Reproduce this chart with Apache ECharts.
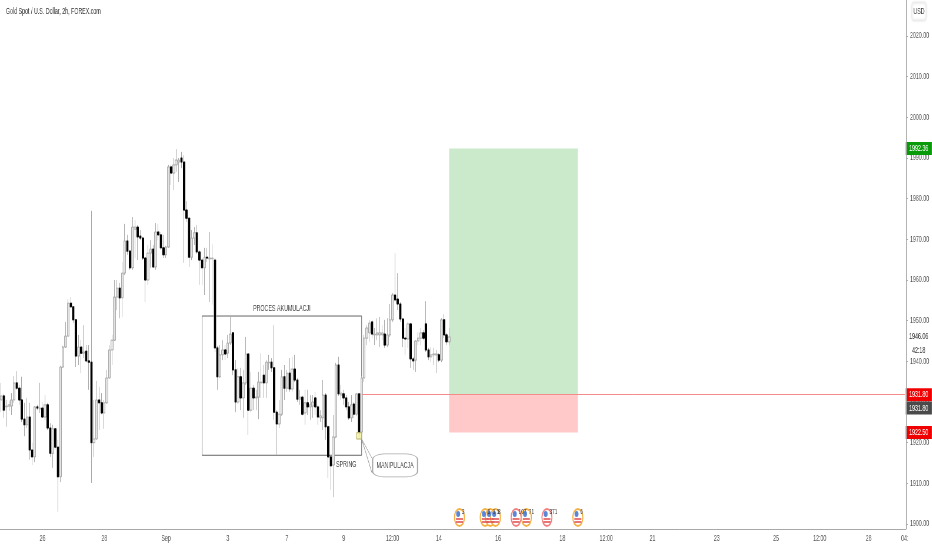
<!DOCTYPE html>
<html><head><meta charset="utf-8">
<style>html,body{margin:0;padding:0;background:#fff;overflow:hidden;width:932px;height:550px}
#c{width:1584.4px;height:550px;transform:scaleX(0.588235);transform-origin:0 0}</style>
<script src="https://cdn.jsdelivr.net/npm/echarts@6/dist/echarts.min.js"></script>
</head><body><div id="c"></div>
<script>
const opens=[1930.5,1931.5,1928.8,1929.0,1929.0,1930.5,1934.7,1933.4,1930.5,1925.8,1924.4,1926.3,1918.2,1916.5,1928.8,1928.3,1928.5,1926.3,1929.3,1923.6,1917.4,1923.4,1918.9,1911.6,1938.6,1943.5,1946.2,1954.3,1953.4,1950.2,1941.3,1943.5,1942.0,1942.5,1940.1,1939.8,1920.0,1920.9,1930.5,1929.8,1927.3,1929.8,1935.9,1942.8,1945.2,1955.8,1958.0,1955.6,1961.7,1969.6,1967.1,1963.0,1972.5,1973.0,1970.8,1970.3,1965.4,1960.0,1966.6,1967.6,1963.2,1971.8,1971.1,1967.9,1966.2,1968.1,1987.8,1986.3,1988.3,1989.0,1990.0,1989.0,1977.2,1975.2,1965.6,1970.3,1971.6,1966.9,1964.9,1963.0,1965.6,1965.2,1965.2,1964.9,1943.3,1936.2,1941.6,1942.8,1942.0,1944.5,1947.0,1937.9,1930.0,1936.2,1931.0,1934.7,1941.8,1928.0,1933.4,1931.0,1931.2,1934.7,1936.6,1934.7,1939.6,1939.8,1938.4,1927.5,1924.6,1927.0,1936.2,1933.4,1937.1,1933.2,1938.1,1935.4,1930.7,1931.2,1927.3,1929.8,1928.8,1929.0,1931.0,1928.8,1926.1,1926.1,1931.7,1923.9,1916.5,1914.5,1921.4,1939.1,1931.7,1932.0,1931.0,1928.8,1926.1,1929.5,1927.0,1932.0,1922.6,1935.9,1945.7,1947.0,1949.7,1946.5,1946.5,1946.5,1946.5,1946.7,1944.0,1946.5,1950.2,1956.3,1955.3,1954.1,1950.4,1945.7,1945.5,1949.2,1940.6,1940.3,1945.0,1945.7,1947.0,1949.2,1942.8,1941.1,1941.6,1941.6,1941.6,1940.3,1950.2,1946.5,1944.8];
const closes=[1931.5,1928.0,1929.0,1929.3,1930.5,1934.7,1933.4,1930.5,1925.8,1924.4,1926.3,1918.2,1916.5,1928.8,1928.5,1928.5,1926.3,1929.3,1923.6,1917.4,1923.4,1918.9,1911.6,1938.6,1943.5,1946.2,1954.3,1953.4,1950.2,1941.3,1943.5,1942.0,1942.3,1940.1,1939.8,1920.0,1920.9,1930.5,1929.8,1927.3,1929.8,1935.9,1942.8,1945.2,1955.8,1958.0,1955.6,1961.7,1969.6,1967.1,1963.0,1973.0,1973.0,1970.6,1970.3,1965.4,1960.0,1966.6,1967.6,1963.2,1971.8,1971.1,1967.9,1966.2,1968.1,1987.8,1986.3,1988.3,1989.5,1989.5,1989.0,1977.2,1975.2,1965.6,1970.3,1971.6,1966.9,1964.9,1963.0,1965.6,1965.4,1965.4,1965.4,1943.3,1936.2,1941.6,1942.8,1941.8,1944.5,1946.7,1937.9,1930.0,1936.2,1931.0,1934.7,1941.8,1928.0,1933.4,1931.0,1931.2,1934.9,1934.9,1934.7,1939.8,1939.8,1938.4,1927.5,1924.6,1927.0,1936.2,1933.4,1937.1,1933.2,1938.1,1935.4,1930.7,1931.2,1927.0,1929.8,1928.8,1929.3,1930.0,1928.8,1926.3,1926.6,1931.7,1923.9,1916.5,1914.3,1921.4,1939.1,1932.0,1932.2,1931.0,1928.8,1926.1,1929.3,1927.0,1932.0,1922.6,1935.9,1945.7,1948.2,1949.4,1946.7,1946.7,1947.0,1947.0,1947.0,1944.0,1946.5,1950.2,1956.3,1955.1,1954.1,1950.4,1945.7,1945.5,1949.2,1940.6,1940.1,1945.0,1945.7,1947.0,1945.7,1942.8,1941.1,1941.6,1941.8,1941.8,1940.3,1950.2,1946.5,1944.8,1946.0];
const highs=[1934.7,1932.0,1930.5,1930.3,1932.2,1936.4,1937.6,1934.2,1936.2,1929.8,1931.0,1929.8,1920.0,1929.0,1929.3,1934.7,1930.0,1931.7,1929.8,1924.8,1924.4,1923.6,1920.7,1938.9,1943.8,1949.7,1955.3,1955.8,1953.6,1950.4,1946.5,1945.2,1948.9,1944.0,1944.0,1977.0,1930.5,1935.2,1933.7,1932.2,1930.5,1937.9,1944.0,1946.5,1960.0,1960.0,1959.3,1964.4,1973.8,1971.1,1967.4,1975.5,1974.7,1973.5,1972.3,1970.6,1965.6,1968.6,1969.8,1968.6,1974.0,1973.8,1971.8,1971.1,1968.4,1988.3,1988.3,1990.0,1992.2,1990.0,1991.5,1990.7,1979.4,1975.5,1972.3,1973.0,1973.5,1967.4,1965.4,1967.9,1967.9,1971.8,1968.8,1965.4,1943.8,1944.0,1945.2,1944.0,1946.5,1951.1,1947.2,1940.3,1938.4,1938.4,1937.9,1946.0,1942.0,1937.4,1934.2,1933.0,1937.4,1942.0,1939.1,1940.3,1941.6,1940.8,1948.9,1928.0,1930.5,1937.9,1939.1,1937.9,1940.8,1941.1,1941.6,1935.9,1933.0,1931.7,1933.0,1933.0,1931.7,1931.7,1932.5,1929.3,1928.0,1935.4,1932.2,1924.4,1917.0,1926.8,1939.6,1941.1,1934.2,1933.0,1931.7,1930.0,1931.7,1930.0,1932.2,1932.2,1936.4,1946.5,1948.9,1950.2,1950.2,1948.2,1950.6,1950.9,1948.9,1950.2,1950.6,1954.1,1956.8,1966.6,1961.7,1954.6,1950.6,1948.2,1949.7,1949.4,1941.1,1945.2,1947.2,1948.2,1947.7,1954.8,1943.3,1943.5,1943.3,1942.8,1942.0,1950.6,1951.6,1947.0,1948.2];
const lows=[1927.5,1926.1,1923.9,1927.8,1926.8,1929.8,1933.0,1929.3,1925.1,1921.6,1923.6,1915.8,1914.5,1915.2,1928.0,1927.3,1926.1,1925.6,1923.1,1916.5,1913.8,1918.2,1903.0,1910.3,1938.4,1943.3,1946.0,1953.1,1949.4,1938.6,1939.1,1937.1,1940.8,1939.8,1933.0,1910.1,1916.5,1920.7,1923.1,1927.0,1923.4,1929.5,1935.7,1939.1,1945.0,1952.6,1950.6,1950.9,1961.2,1966.2,1962.5,1962.5,1965.4,1964.9,1969.8,1964.9,1954.6,1958.8,1963.0,1963.0,1962.5,1969.8,1967.4,1965.4,1965.4,1967.9,1983.4,1982.1,1986.6,1984.1,1987.5,1964.2,1974.3,1963.2,1964.9,1968.6,1966.4,1958.8,1958.8,1956.3,1964.4,1954.6,1953.9,1942.3,1933.0,1935.9,1940.3,1940.3,1940.8,1944.0,1936.6,1927.5,1929.5,1928.0,1926.1,1934.2,1921.9,1927.5,1928.0,1928.0,1925.8,1931.0,1931.0,1931.0,1937.9,1937.4,1925.6,1917.0,1923.6,1926.6,1930.5,1932.5,1932.5,1932.5,1934.9,1930.0,1929.3,1926.6,1924.4,1926.8,1925.6,1926.1,1926.8,1924.4,1925.1,1923.1,1920.7,1911.3,1908.4,1906.6,1921.1,1931.5,1930.5,1929.3,1928.0,1925.6,1925.1,1926.1,1926.6,1921.6,1921.6,1934.9,1944.0,1944.8,1945.7,1944.0,1945.2,1943.5,1945.2,1943.3,1943.5,1946.0,1949.7,1954.6,1952.6,1949.7,1943.5,1941.6,1943.3,1938.4,1937.9,1937.4,1944.0,1944.0,1945.2,1942.3,1940.3,1939.8,1939.1,1937.1,1939.8,1939.8,1945.7,1944.0,1944.0];

const barSlots=352;
const xTickIndex=[16,40,64,88,111,133,152,170,193,218,235,253,278,301,318,337,351];
const xTickLabels=['26','28','Sep','3','7','9','12:00','14','16','18','12:00','21','23','25','12:00','28','04:'];
const yMin=1900, yMax=2020, yStep=10;

const tagPrices=[1992.36,1931.8,1928.5,1922.5];
const tagTexts=['1992.36','1931.80','1931.80','1922.50'];
const tagColors=['#089a08','#f00000','#4a4a4a','#f00000'];
const plainPrices=[1946.06,1942.7];
const plainTexts=['1946.06','42:18'];

const eventIndex=[177.7,187.6,189.6,191.5,199.6,203.5,211.9,224];
const eventPrice=1901.6;
const eventTexts=['3','6','1 1','8','107','71','371','6'];
const eventRings=['#f5b041','#f5b041','#f5b041','#f5b041','#f1807e','#f5b041','#f1807e','#f5b041'];

const greenZone=[174,223.7,1931.8,1992.36];
const redZone=[174,223.7,1922.5,1931.8];
const boxZone=[78,140,1916.9,1951.14];
const springZone=[138,140.3,1920.9,1922.45];

const K=1.7;
const FONT='"Liberation Sans",sans-serif';
const ohlc=opens.map((o,i)=>[o,closes[i],lows[i],highs[i]]);
const downBodies=opens.map((o,i)=>o>closes[i]?[o,closes[i],closes[i],o]:'-');
const categories=Array(barSlots).fill('');
xTickIndex.forEach((k,i)=>categories[k]=xTickLabels[i]);
const isTick=(i,v)=>v!=='';

function area(z,style){return [{coord:[z[0],z[3]],itemStyle:style},{coord:[z[1],z[2]]}];}
function eventSeries(size,offset,color,ringColors,symbol){
  return {type:'scatter',silent:true,symbol:symbol||'circle',symbolSize:size,symbolOffset:offset,z:6,
    data:eventIndex.map((x,i)=>({value:[x,eventPrice],itemStyle:{color:color,opacity:1,
      borderColor:ringColors?ringColors[i]:'transparent',borderWidth:ringColors?1.8:0}}))};
}
const chart=echarts.init(document.getElementById('c'),null,{renderer:'canvas'});
const ringS=eventSeries([10*K,17],[0,0],'#fff',eventRings);
ringS.data=ringS.data.map((d,i)=>Object.assign(d,{label:{show:true,position:'right',distance:-3*K,offset:[0,-6],
  formatter:eventTexts[i],fontSize:8,color:'#333',fontFamily:FONT}}));
chart.setOption({
  animation:false,backgroundColor:'#fff',
  title:{text:'Gold Spot / U.S. Dollar, 2h, FOREX.com',left:3*K,top:2,textStyle:{fontFamily:FONT,fontSize:9,fontWeight:'normal',color:'#333'}},
  grid:{left:0,width:906*K,top:36,height:488,outerBoundsMode:'none',containLabel:false},
  xAxis:{type:'category',data:categories,boundaryGap:true,offset:5,
    axisLine:{lineStyle:{color:'#a8a8a8'}},
    axisTick:{interval:isTick,alignWithLabel:true,length:3,lineStyle:{color:'#a8a8a8'}},
    axisLabel:{interval:isTick,margin:5,fontFamily:FONT,fontSize:9,color:'#555',hideOverlap:false,showMaxLabel:true},
    splitLine:{show:false}},
  yAxis:{type:'value',position:'right',min:yMin,max:yMax,interval:yStep,
    axisLine:{show:false},axisTick:{show:true,length:2*K,lineStyle:{color:'#a8a8a8'}},
    axisLabel:{margin:4*K,fontFamily:FONT,fontSize:9,color:'#555',formatter:v=>v.toFixed(2)},
    splitLine:{show:false}},
  graphic:[
    {type:'line',shape:{x1:906.5*K,y1:0,x2:906.5*K,y2:529},style:{stroke:'#a8a8a8',lineWidth:1.7},z:50},
    {type:'rect',shape:{x:912*K,y:3,width:14*K,height:17,r:3},style:{fill:'#fff',stroke:'#eeeeee',lineWidth:1,shadowBlur:3,shadowColor:'rgba(0,0,0,.15)'},z:50},
    {type:'text',style:{x:919*K,y:11.5,text:'USD',align:'center',verticalAlign:'middle',font:'9px '+FONT,fill:'#444'},z:51}
  ],
  series:[
   {type:'candlestick',name:'Gold',data:ohlc,barWidth:4,z:3,
    itemStyle:{color:'#e2e2e2',color0:'#000',borderColor:'#aaa',borderColor0:'#aaa',borderWidth:1},
    markArea:{silent:true,z:1,data:[
      area(greenZone,{color:'#cbeacb'}),
      area(redZone,{color:'#ffc9c9'}),
      area(boxZone,{color:'rgba(0,0,0,0)',borderColor:'#666',borderWidth:1})]},
    markLine:{silent:true,symbol:'none',z:7,label:{show:false},data:[
      [{coord:[140,1931.8],lineStyle:{color:'#f58a8a',width:1,type:'solid'}},{coord:[351,1931.8]}],
      [{coord:[139.5,1920.9],lineStyle:{color:'#999',width:1,type:'solid'}},{coord:[144,1916.2]}],
      [{coord:[139.5,1920.9],lineStyle:{color:'#999',width:1,type:'solid'}},{coord:[144,1912.6]}]]},
    markPoint:{silent:true,z:8,data:[
      ...tagPrices.map((p,i)=>({coord:[351,p],symbol:'rect',symbolSize:[26*K,13],symbolOffset:[14*K,0],
        itemStyle:{color:tagColors[i]},label:{show:true,position:'inside',formatter:tagTexts[i],color:'#fff',fontSize:9,fontFamily:FONT}})),
      ...plainPrices.map((p,i)=>({coord:[351,p],symbol:'rect',symbolSize:[25*K,11],symbolOffset:[14*K,0],
        itemStyle:{color:'#fff'},label:{show:true,position:'inside',formatter:plainTexts[i],color:'#333',fontSize:9,fontFamily:FONT}})),
      {coord:[153,1914.4],symbol:'roundRect',symbolSize:[45*K,23],itemStyle:{color:'#fff',borderColor:'#aaa',borderWidth:1.2},
        label:{show:true,position:'inside',formatter:'MANIPULACJA',color:'#444',fontSize:9,fontFamily:FONT}},
      {coord:[109.3,1953.1],symbol:'rect',symbolSize:1,itemStyle:{color:'rgba(0,0,0,0)'},
        label:{show:true,position:'inside',formatter:'PROCES AKUMULACJI',color:'#444',fontSize:9,fontFamily:FONT}},
      {coord:[134.2,1914.75],symbol:'rect',symbolSize:1,itemStyle:{color:'rgba(0,0,0,0)'},
        label:{show:true,position:'inside',formatter:'SPRING',color:'#444',fontSize:9,fontFamily:FONT}}
    ]}},
   {type:'candlestick',name:'Bodies',data:downBodies,barWidth:3,z:4,silent:true,
    itemStyle:{color:'#000',color0:'#000',borderColor:'#000',borderColor0:'#000',borderWidth:1},
    markArea:{silent:true,z:9,data:[area(springZone,{color:'rgba(240,235,150,.7)',borderColor:'#b4b060',borderWidth:1})]}},
   ringS,
   eventSeries([4*K,6],[-1.3*K,-3.5],'#5b86d6'),
   eventSeries([7*K,1.6],[0,1.5],'#e25555',null,'rect'),
   eventSeries([7*K,1.6],[0,4.5],'#e25555',null,'rect')
  ]
});
</script></body></html>
